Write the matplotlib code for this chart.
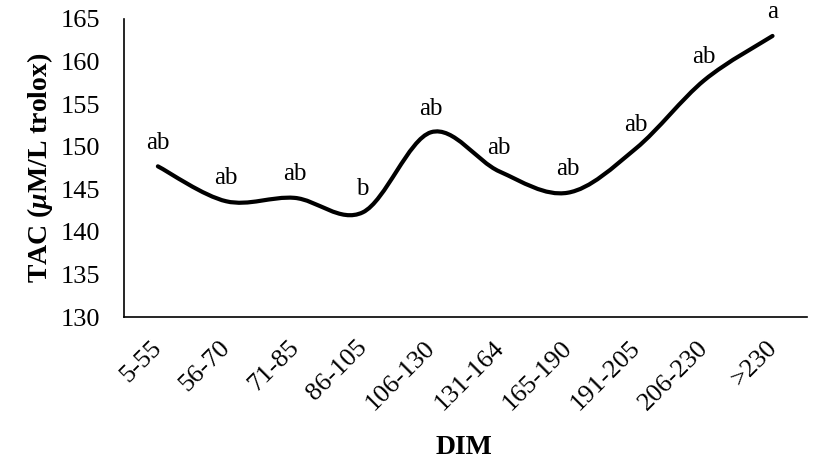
import matplotlib.pyplot as plt
import numpy as np
from matplotlib.path import Path
from matplotlib.patches import PathPatch
from matplotlib.transforms import ScaledTranslation

# data
dim = ["5-55", "56-70", "71-85", "86-105", "106-130", "131-164", "165-190",
       "191-205", "206-230", ">230"]
tac = [147.7, 143.6, 144.0, 142.3, 151.7, 147.1, 144.6, 149.8, 157.8, 163.0]
letters = ["ab", "ab", "ab", "b", "ab", "ab", "ab", "ab", "ab", "a"]

plt.rcParams["font.family"] = ["Liberation Serif", "DejaVu Serif"]
plt.rcParams["mathtext.fontset"] = "custom"
plt.rcParams["mathtext.it"] = "Liberation Serif:bold:italic"
plt.rcParams["mathtext.rm"] = "Liberation Serif:bold"

fig = plt.figure(figsize=(8.14, 4.61), dpi=100)
ax = fig.add_axes([0.152, 0.312, 0.839, 0.647])

x = np.arange(len(tac))
y = np.array(tac)

# smoothed line like the spreadsheet one (bezier through every point)
verts = [(x[0], y[0])]
codes = [Path.MOVETO]
n = len(x)
for i in range(n - 1):
    p0 = np.array([x[max(i - 1, 0)], y[max(i - 1, 0)]])
    p1 = np.array([x[i], y[i]])
    p2 = np.array([x[i + 1], y[i + 1]])
    p3 = np.array([x[min(i + 2, n - 1)], y[min(i + 2, n - 1)]])
    c1 = p1 + (p2 - p0) / 6
    c2 = p2 - (p3 - p1) / 6
    verts += [tuple(c1), tuple(c2), tuple(p2)]
    codes += [Path.CURVE4] * 3
ax.add_patch(PathPatch(Path(verts, codes), fill=False, lw=3, color="black",
                       capstyle="round", joinstyle="round"))

for xi, yi, s in zip(x, y, letters):
    ax.annotate(s, (xi, yi), xytext=(0, 9), textcoords="offset points",
                ha="center", va="bottom", fontsize=18)

ax.set_xlim(-0.5, n - 0.5)
ax.set_ylim(130, 165)
ax.set_yticks(np.arange(130, 166, 5))
ax.set_xticks(x)
ax.set_xticklabels(dim, rotation=45, ha="right", rotation_mode="anchor")
ax.tick_params(length=0, labelsize=19)
ax.tick_params(axis="y", pad=17)
ax.tick_params(axis="x", pad=14)
# nudge the rotated labels a little to the left
shift = ScaledTranslation(-5 / 72, 0, fig.dpi_scale_trans)
for lab in ax.get_xticklabels():
    lab.set_transform(lab.get_transform() + shift)
for side in ["top", "right"]:
    ax.spines[side].set_visible(False)
for side in ["left", "bottom"]:
    ax.spines[side].set_linewidth(1.2)

fig.text(40 / 814, 1 - 168 / 461, r"TAC ($\mu$M/L trolox)", fontsize=20,
         fontweight="bold", rotation=90, ha="center", va="center")
fig.text(464 / 814, 1 - 447 / 461, "DIM", fontsize=20, fontweight="bold",
         ha="center", va="center")

fig.savefig("out.png", dpi=100)
